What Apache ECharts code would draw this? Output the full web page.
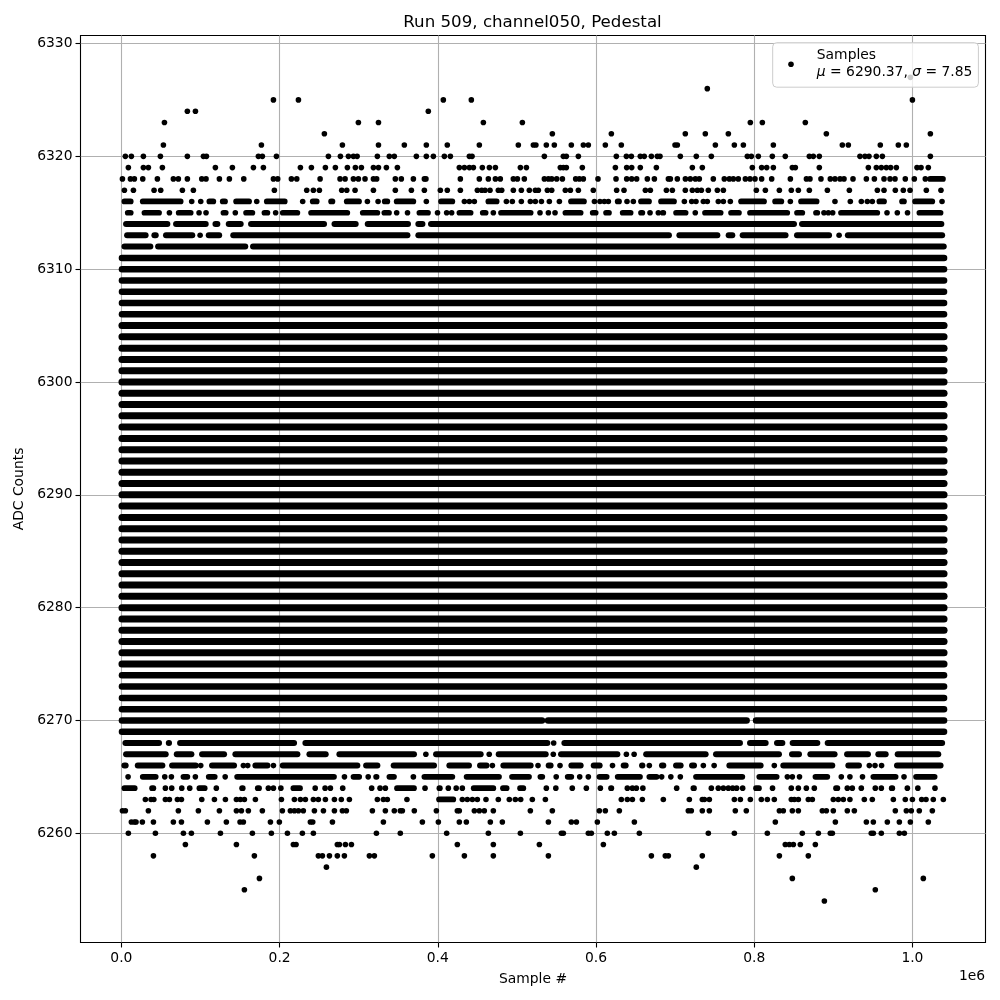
<!DOCTYPE html>
<html><head><meta charset="utf-8">
<style>html,body{margin:0;padding:0;background:#fff}#c{width:1000px;height:1000px}</style>
<script src="https://cdn.jsdelivr.net/npm/echarts@6/dist/echarts.min.js"></script>
</head><body><div id="c"></div>
<script>
// Values in thousands of samples: a number is one sample, a pair is a visually solid run of samples.
const r6327=[997.4];
const r6326=[740.7];
const r6325=[192.2,223.8,407,442.4,1000];
const r6324=[83.4,93.6,388];
const r6323=[54.4,299.6,325,457.6,506.9,795.1,810.3,864.6];
const r6322=[256.6,544.8,619.4,712.9,738.2,767.3,891.2,1022.7];
const r6321=[53.1,177,279.4,325,357.7,385.5,412,452.5,501.8,520.8,524,537.2,547.3,568.8,584,590.3,611.8,632,699.9,702.8,750.9,774.9,786.3,824.2,911.4,919,959.4,982.2,992.3];
const r6320=[5,12.6,27.8,49.3,83.4,103.7,107.5,173.2,178.2,196,261.7,276.9,287,293.3,298,323.6,338.7,345,372.9,385.5,394.4,408.3,415.9,439.9,443.3,534.7,558.7,562.5,577.7,625.7,638.4,644.7,656,661,670,677.5,680.9,706.6,726.8,745.8,791.3,796.4,805.2,822.9,839.3,869.7,874.7,882.3,933.7,940,945.1,954.4,962,1022.7];
const r6319=[8.8,27.8,34.1,51.8,118.8,140.3,166.9,179.5,226.3,240.2,257.9,270.5,285.7,295.8,303.4,318.6,325,335,348.9,427.2,433.6,439.9,445,456.3,465.2,472.8,504.4,512,554.9,558.7,562.5,582.7,624.5,638.8,645.1,656,676.3,721.8,734.4,797.6,809.4,815.8,824.2,848.2,852,882.3,944.3,954.4,960.7,967,972.5,979.7,1005.8,1010.9,1020.1];
const r6318=[1.3,11.4,16.4,27,45.5,65.7,72,83.4,101.6,107,123.9,136.5,154.7,192.2,197.6,214.9,221.7,251.2,276.4,282.8,293.3,299.6,308,318.6,322.7,346.3,353.9,369.1,383,385,428.5,452.5,463.9,472.8,479,495.5,500.6,509.4,534.7,539.8,544,550.3,557.5,574.3,579,584,602.5,625.3,638.8,645.1,651.4,664.9,673.8,691.5,694,702.8,713,719.2,725.6,730.6,748.3,762.2,768.6,773.6,779.9,788.8,794.7,801,809.4,822.1,845.7,866,870.5,884.4,896.2,902.1,908.5,913.5,924.9,941.8,951.9,964.1,971.7,978,991,1002.4,1016.3,[1019,1042]];
const r6317=[3.8,15.2,41.3,49.7,77.1,91,193.4,234.3,242.7,250.3,278.5,284.9,295.4,318.6,346.3,366.6,383,403.2,412,428.5,450,455.5,459.7,466,476.5,480.8,495.5,505.6,515.7,523.3,527.1,538.5,544,561.2,567.6,577.7,596.6,626.1,635.4,662.4,668.7,689,696.5,712.9,721.8,728.1,733.2,742,753.4,761,802.7,814.1,831.8,846.9,855.8,869.7,892.5,920.3,955.7,964.1,978.4,988.5,997,1017.6,1036.1];
const r6316=[[0.4,15.2],[23.6,78.3],88.9,100.3,[107.8,119.6],[124.7,134.4],[141.6,164.8],171.1,[180.4,209.9],229.2,[238.5,250.3],[261.7,270.2],[281.5,303.8],311,[322,327],[329.5,339.6],[344.6,372.5],385.5,[400.7,421.8],433.6,439.9,446.2,[460.5,477.8],486.7,494.2,505.6,517,523.3,531,541,553.7,[565,588.2],598,605,610.5,615.6,[624,632.5],639.2,647.2,[653.5,670.4],[678.8,702],711.7,721,726.4,735.7,740.7,754.6,761,769.8,[780,815.8],[823,837.7],845.7,[855.8,882.3],902.1,921.5,935.4,943,949.3,[954.8,967.5],[983.5,992.7],[1000,1028.5],[1034.9,1040]];
const r6315=[[4.6,15.2],[25.7,51],60.7,[69,91],98.2,[104,110],[125.6,135.3],144,[154.2,169],[177.4,188],195,[200.6,225.9],[236.4,289],[301.7,327],[329,341.7],348,[358.5,364.9],[373.3,391],[396.5,402.8],411.2,417.5,[423.9,444.9],[453.4,463.9],470.2,[476.5,520.8],[527.1,531.3],539.8,548.2,[557.9,584],[592.4,603],[609.3,619.8],[630.3,647.2],[653.5,662],668.3,678.8,[681,688.5],[697.8,716.7],[723,728],[734.4,761],[767.3,784.1],[791.3,845.2],[850.7,864.2],[874.7,883.2],888.2,893.7,899.2,[906.3,959],967.9,980.9,[990.6,997],[1005.4,1039]];
const r6314=[[2.5,61.5],[65.7,110],[115.5,124.7],[132.3,154.2],[160.5,259.6],[266,299.6],[308,365.7],[372,384],[388,696],[681,853.7],[857,1040]];
const r6313=[[3.8,34],[38.3,46.8],[53,93],99.5,[107,127],[138,365],[372,695.6],[702,756.8],[764.3,775.7],[782,843],[850.7,898],[904,910.6],[915,1041]];
const r6312=[[0.5,40],[43,160],[163,1043]];
const r6271=[[-2.7,1043.4]];
const r6270=[[-2.7,535.1],[536,793.8],[798.9,1043.4]];
const r6269=[[-2.7,1043.4]];
const r6268=[[1.7,51],[56.5,63.6],[70.8,221.7],[229.2,541.9],546.5,[556.6,785.4],[791.3,817.9],[825.4,839],[845.2,883.2],[889.5,1041]];
const r6267=[[2.5,59.4],[66.6,91.9],[98.6,133.2],[140.7,225.9],[234.3,261.7],[272.2,373.3],[383,386.8],[394.4,457.6],465,[473.6,539.8],546,[552.4,630.4],638.4,[645,651.4],[660,742],[748.3,834.7],[844.4,860],[867.6,905],[914,947.2],[953.5,969.6],[978,1036.1]];
const r6266=[[0.4,8.8],[17.3,55.2],[60.7,97.3],100.3,[111.2,145.8],154.2,159.7,[166,188],192.2,[200.6,301.7],[306,327],[340.8,398.6],[411.2,442.8],[450,465],469,[479.5,520.8],526.7,[536.8,546],554.5,[565.5,584],[593.7,608],[617.7,624],[631.6,640.9],[654.8,662],667.4,[680,688.5],[697.8,710.4],[718,727.3],735.7,[746.2,752.5],[765.2,811.5],825.4,[833.4,902.1],[915.6,935.8],945.5,952.7,961,[977.1,1039]];
const r6265=[[5.9,11],[23.6,46.8],54.8,63.2,[75,86.8],93.5,[107,121.4],[128,134.4],[142.9,272.2],282,[290,304],312,[318.6,326],[335.4,348],[365.7,372.5],[379.6,421.8],[433,480.8],[490.4,518.7],[526.3,535.5],[547,552.4],[560.8,572.2],579.4,590.3,[600.9,616.9],[624,659],[664,680],683,[691.4,697.8],706.6,[723,788.4],[803,831.8],841.9,848.2,[854.5,860],[874,895.8],910.1,921,[935,938.8],[947.2,982.2],989.4,[1001.2,1031.5]];
const r6264=[[0.4,20.2],[35.4,43.8],55.6,63.6,76.3,86.4,[95.2,108.7],120,[149.2,156.8],[169,177.4],185.8,192.2,[199.7,203.5],[214,229.2],245,257.5,264.2,279.8,316.4,327,333.7,[345,373.3],[381.7,386],[398.6,406],413.3,[420.5,426],431,[442,473.6],[479,490.4],[500.6,511.5],537.2,[546,552.4],570,587.8,[603,608],[615.6,622.8],639.6,646,651,[656.5,662],702,[719.7,727.3],745.8,754.6,761,767.3,772.8,777.8,785.4,[798.9,809.4],[820,826.3],846.9,855.8,865.9,[874,878],[900,908.5],917.7,924,935.4,953.1,960.7,[970.4,978],993.6,[1004.1,1009.6],[1026.4,1030.7]];
const r6263=[30.3,37.5,41,55.6,60.7,70.8,75.9,101.6,117.6,131.5,145.4,150.4,155.5,169.4,202.3,218.7,226.3,232.6,242.7,249,257.9,269.3,278,288.2,323.6,331.2,336.2,361,[398.2,423],431,437.3,443.7,450,460.9,476.5,490.4,498,504.8,519.5,536,632,639.6,646,658.6,685.1,718,734.4,737,743.3,774.9,782.5,795.1,809,816.6,825.4,846.9,850.7,855.8,868.4,873.5,900,906.3,912.7,921,939.2,949.3,975.9,991,1000,1011.7,1017.2,1026.4,1039.1];
const r6262=[1.3,5,34.1,72,97.3,123.9,145.4,151.7,160.5,178.2,203.5,213.6,218.7,223.8,230,244,255.4,269.3,279.4,284.4,317.3,333.7,345,352.6,355.2,370.3,398.2,424.7,427.2,446.2,452.5,458.8,470.2,517,544.8,604.2,611.8,629.5,716.7,720.5,734.4,743.3,776.1,790,831.8,836.8,848.2,855.8,886.1,891.2,900,917.7,926.6,978.4,992.3,998.6,1008.7,1025.2];
const r6261=[12.6,16.4,18.5,26.5,40.5,65.7,75.9,108.7,132.7,150,154.2,188.4,199.7,238.9,241.9,266.8,331.2,380.5,400.7,427.2,436.1,466.4,481.6,539.8,568.8,575.2,601.7,648.5,826.7,902.6,941.8,950.6,968.3,983.5,997.4,1020.1];
const r6260=[8.8,43,78.4,88.5,125.2,165.6,189.6,209.9,228.8,242.7,322.4,352.6,411.2,463.9,504.4,556.2,558.7,590.3,594.1,614.3,623.2,654.8,742,774.9,816.6,860.8,881.1,896.2,898.8,948,950.6,960.7,983.5,989.8];
const r6259=[80.9,145.4,217.4,220.8,273,275.6,283.2,290.8,424.7,470.2,528.4,609.3,839.3,844.4,849.5,858.3,877.3];
const r6258=[40.5,168.1,249,254.1,263,273,281.9,313.5,319.8,433.6,470.2,539.8,670,687.6,691.5,734.4,393.1,831.8,868.4];
const r6257=[259.2,726.8];
const r6256=[174.5,848.2,1013.8];
const r6255=[155.5,953.1];
const r6254=[888.7];
// Levels where samples form one unbroken band across the whole run.
const fullLevels=[6272,6273,6274,6275,6276,6277,6278,6279,6280,6281,6282,6283,6284,6285,6286,6287,6288,6289,6290,6291,6292,6293,6294,6295,6296,6297,6298,6299,6300,6301,6302,6303,6304,6305,6306,6307,6308,6309,6310,6311];
const fullRun=[-2.7,1043.4];
const rows=[[6327,r6327],[6326,r6326],[6325,r6325],[6324,r6324],[6323,r6323],[6322,r6322],[6321,r6321],[6320,r6320],[6319,r6319],[6318,r6318],[6317,r6317],[6316,r6316],[6315,r6315],[6314,r6314],[6313,r6313],[6312,r6312],[6271,r6271],[6270,r6270],[6269,r6269],[6268,r6268],[6267,r6267],[6266,r6266],[6265,r6265],[6264,r6264],[6263,r6263],[6262,r6262],[6261,r6261],[6260,r6260],[6259,r6259],[6258,r6258],[6257,r6257],[6256,r6256],[6255,r6255],[6254,r6254]];
fullLevels.forEach(l=>rows.push([l,[fullRun]]));
const xTicks=[0,200000,400000,600000,800000,1000000];
const yTicks=[6260,6270,6280,6290,6300,6310,6320,6330];

const DOT=5.6, HALF_K=3.4;
const points=[], runs=[];
rows.forEach(([level,items])=>items.forEach(it=>{
  if(Array.isArray(it)){
    const a=it[0]+HALF_K,b=it[1]-HALF_K;
    if(b>a) runs.push([a*1000,b*1000,level]); else points.push([(a+b)*500,level]);
  } else points.push([it*1000,level]);
}));
const bandWidth=l=>{
  const d=Math.abs(l-6290);
  return d<=15?7:d<=21?6.5:d<=24?6:5.7;
};
const font='"DejaVu Sans"';
const chart=echarts.init(document.getElementById('c'),null,{renderer:'canvas'});
chart.setOption({
  animation:false,backgroundColor:'#fff',
  title:{text:'Run 509, channel050, Pedestal',left:527.5,top:9,textAlign:'center',
    textStyle:{fontFamily:font,fontSize:16.67,fontWeight:'normal',color:'#000'}},
  grid:{left:80.5,right:14.5,top:35.5,bottom:57.5,show:true,borderColor:'#000',borderWidth:1.1,backgroundColor:'transparent'},
  legend:{show:true,data:[{name:'Samples',icon:'circle'}],orient:'vertical',left:772.7,top:42.7,
    padding:[4.5,6,6,15.5],itemWidth:DOT,itemHeight:DOT,
    backgroundColor:'rgba(255,255,255,0.8)',borderColor:'#ccc',borderWidth:1,borderRadius:4,
    formatter:()=>'{s|}Samples\n{s|}{i|μ} = 6290.37, {i|σ} = 7.85',
    textStyle:{fontFamily:font,fontSize:13.89,color:'#000',lineHeight:17,
      rich:{s:{width:18},i:{fontFamily:font,fontStyle:'italic',fontSize:13.89,color:'#000'}}}},
  xAxis:{type:'value',min:-51706,max:1092400,name:'Sample #',nameLocation:'middle',nameGap:30,
    nameTextStyle:{fontFamily:font,fontSize:13.89,color:'#000'},
    axisLine:{show:false,onZero:false},axisTick:{show:true,length:5,lineStyle:{color:'#000',width:1.1},customValues:xTicks},
    axisLabel:{color:'#000',fontFamily:font,fontSize:13.89,margin:9,customValues:xTicks,
      formatter:v=>(v/1e6).toFixed(1)},
    splitLine:{show:true,lineStyle:{color:'#b0b0b0',width:1.1}}},
  yAxis:{type:'value',min:6250.32,max:6330.71,name:'ADC Counts',nameLocation:'middle',nameGap:50,
    nameTextStyle:{fontFamily:font,fontSize:13.89,color:'#000'},
    axisLine:{show:false,onZero:false},axisTick:{show:true,length:5,lineStyle:{color:'#000',width:1.1},customValues:yTicks},
    axisLabel:{color:'#000',fontFamily:font,fontSize:13.89,margin:8,padding:[1,0,0,0],customValues:yTicks,formatter:v=>String(v)},
    splitLine:{show:true,lineStyle:{color:'#b0b0b0',width:1.1}}},
  graphic:[{type:'text',left:959,top:969,style:{text:'1e6',fontFamily:font,fontSize:13.89,fill:'#000'}}],
  series:[
    {type:'custom',name:'Bands',silent:true,z:2,clip:false,
     encode:{x:[0,1],y:2},data:runs,
     renderItem:(p,api)=>{
       const a=api.coord([api.value(0),api.value(2)]),b=api.coord([api.value(1),api.value(2)]);
       return {type:'line',shape:{x1:a[0],y1:a[1],x2:b[0],y2:b[1]},
         style:{stroke:'#000',lineWidth:bandWidth(api.value(2)),lineCap:'round',fill:null}};
     }},
    {type:'scatter',name:'Samples',symbol:'circle',symbolSize:DOT,z:2,
     itemStyle:{color:'#000',opacity:1},data:points}
  ]
});
</script></body></html>
